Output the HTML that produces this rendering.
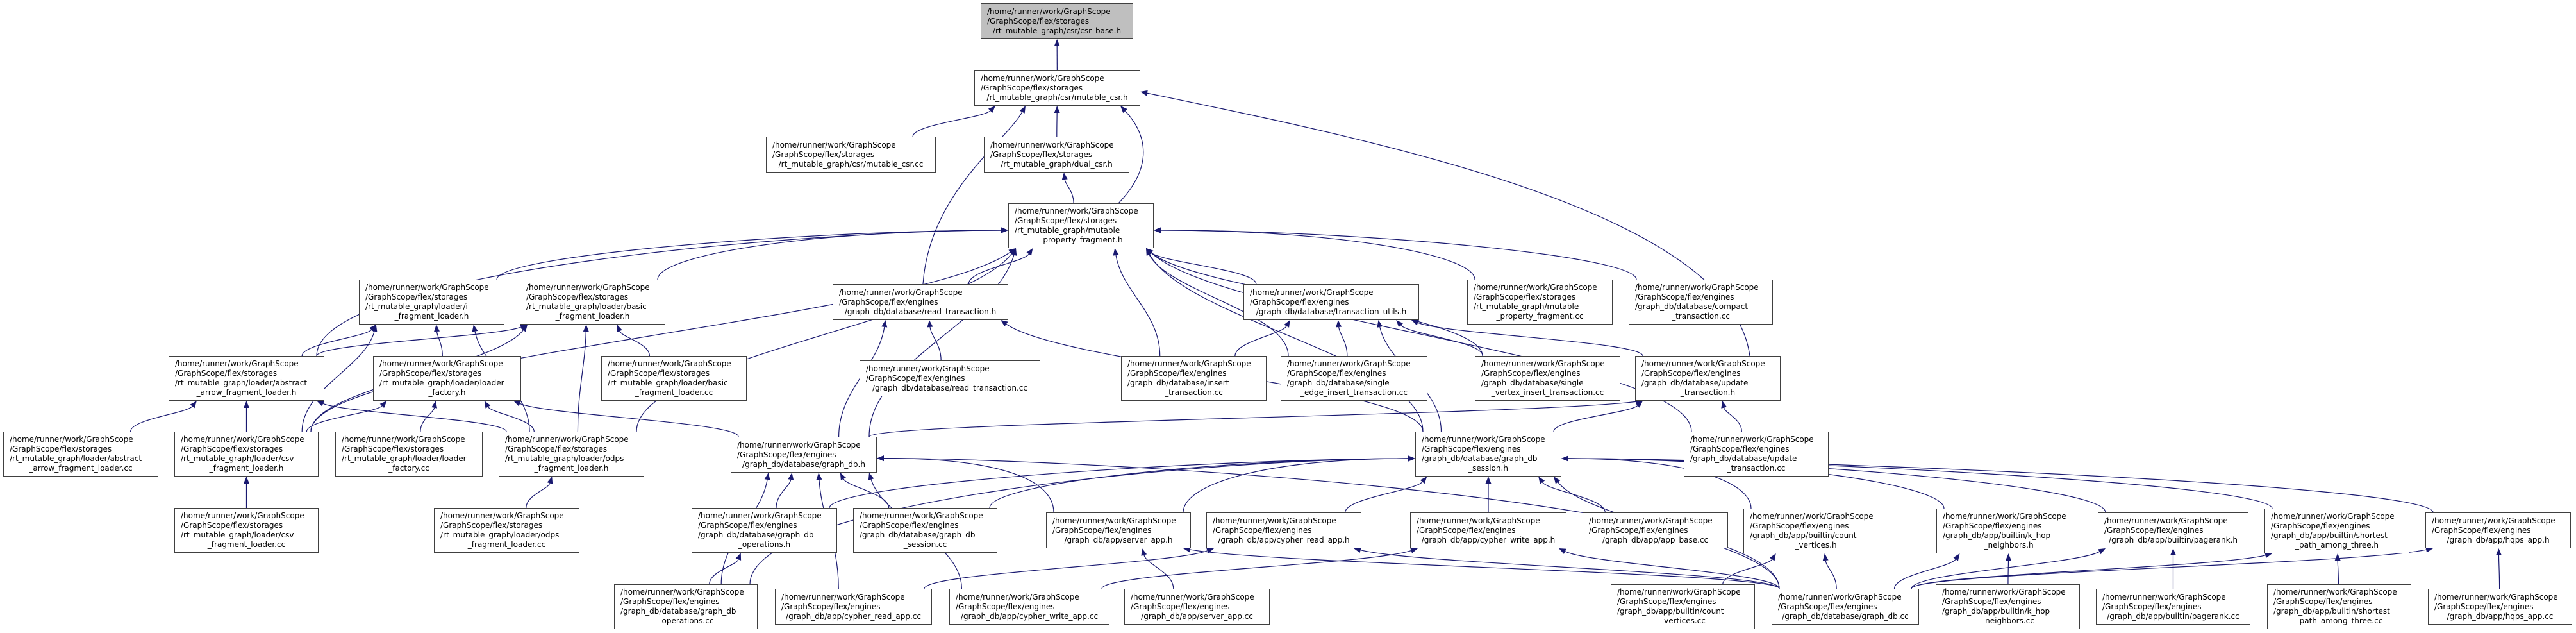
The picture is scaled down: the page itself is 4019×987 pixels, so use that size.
<!DOCTYPE html>
<html><head><meta charset="utf-8">
<style>
html,body{margin:0;padding:0;background:#fff;}
body{width:4019px;height:987px;position:relative;overflow:hidden;font-family:"DejaVu Sans","Liberation Sans",sans-serif;}
.n{position:absolute;box-sizing:border-box;border:1.3px solid #404040;background:#fff;display:flex;flex-direction:column;justify-content:center;padding:0 0 0 9px;font-size:12px;line-height:15px;color:#000;white-space:nowrap;z-index:2;}
.n div:last-child{text-align:center;padding-right:9px;}
.g{background:#bfbfbf;}
svg{position:absolute;left:0;top:0;z-index:1;}
</style></head><body>
<svg id="s" width="4019" height="987"></svg>

<div class="n g" id="csr_base" style="left:1530px;top:5px;width:238px;height:56px"><div>/home/runner/work/GraphScope</div><div>/GraphScope/flex/storages</div><div>/rt_mutable_graph/csr/csr_base.h</div></div>
<div class="n" id="mcsr_h" style="left:1520px;top:109px;width:259px;height:56px"><div>/home/runner/work/GraphScope</div><div>/GraphScope/flex/storages</div><div>/rt_mutable_graph/csr/mutable_csr.h</div></div>
<div class="n" id="mcsr_cc" style="left:1195px;top:213px;width:265px;height:56px"><div>/home/runner/work/GraphScope</div><div>/GraphScope/flex/storages</div><div>/rt_mutable_graph/csr/mutable_csr.cc</div></div>
<div class="n" id="dual" style="left:1535px;top:213px;width:227px;height:56px"><div>/home/runner/work/GraphScope</div><div>/GraphScope/flex/storages</div><div>/rt_mutable_graph/dual_csr.h</div></div>
<div class="n" id="mpf_h" style="left:1573px;top:317px;width:227px;height:70px"><div>/home/runner/work/GraphScope</div><div>/GraphScope/flex/storages</div><div>/rt_mutable_graph/mutable</div><div>_property_fragment.h</div></div>

<div class="n" id="iload" style="left:560px;top:436px;width:227px;height:70px"><div>/home/runner/work/GraphScope</div><div>/GraphScope/flex/storages</div><div>/rt_mutable_graph/loader/i</div><div>_fragment_loader.h</div></div>
<div class="n" id="bload_h" style="left:811px;top:436px;width:227px;height:70px"><div>/home/runner/work/GraphScope</div><div>/GraphScope/flex/storages</div><div>/rt_mutable_graph/loader/basic</div><div>_fragment_loader.h</div></div>
<div class="n" id="rtx_h" style="left:1299px;top:443px;width:274px;height:56px"><div>/home/runner/work/GraphScope</div><div>/GraphScope/flex/engines</div><div>/graph_db/database/read_transaction.h</div></div>
<div class="n" id="txu" style="left:1940px;top:443px;width:274px;height:56px"><div>/home/runner/work/GraphScope</div><div>/GraphScope/flex/engines</div><div>/graph_db/database/transaction_utils.h</div></div>
<div class="n" id="mpf_cc" style="left:2289px;top:436px;width:227px;height:70px"><div>/home/runner/work/GraphScope</div><div>/GraphScope/flex/storages</div><div>/rt_mutable_graph/mutable</div><div>_property_fragment.cc</div></div>
<div class="n" id="compact" style="left:2541px;top:436px;width:225px;height:70px"><div>/home/runner/work/GraphScope</div><div>/GraphScope/flex/engines</div><div>/graph_db/database/compact</div><div>_transaction.cc</div></div>

<div class="n" id="aarrow_h" style="left:263px;top:555px;width:243px;height:70px"><div>/home/runner/work/GraphScope</div><div>/GraphScope/flex/storages</div><div>/rt_mutable_graph/loader/abstract</div><div>_arrow_fragment_loader.h</div></div>
<div class="n" id="lf_h" style="left:582px;top:555px;width:231px;height:70px"><div>/home/runner/work/GraphScope</div><div>/GraphScope/flex/storages</div><div>/rt_mutable_graph/loader/loader</div><div>_factory.h</div></div>
<div class="n" id="bload_cc" style="left:938px;top:555px;width:227px;height:70px"><div>/home/runner/work/GraphScope</div><div>/GraphScope/flex/storages</div><div>/rt_mutable_graph/loader/basic</div><div>_fragment_loader.cc</div></div>
<div class="n" id="rtx_cc" style="left:1341px;top:562px;width:282px;height:56px"><div>/home/runner/work/GraphScope</div><div>/GraphScope/flex/engines</div><div>/graph_db/database/read_transaction.cc</div></div>
<div class="n" id="ins_cc" style="left:1749px;top:555px;width:227px;height:70px"><div>/home/runner/work/GraphScope</div><div>/GraphScope/flex/engines</div><div>/graph_db/database/insert</div><div>_transaction.cc</div></div>
<div class="n" id="sedge" style="left:1998px;top:555px;width:229px;height:70px"><div>/home/runner/work/GraphScope</div><div>/GraphScope/flex/engines</div><div>/graph_db/database/single</div><div>_edge_insert_transaction.cc</div></div>
<div class="n" id="svert" style="left:2301px;top:555px;width:227px;height:70px"><div>/home/runner/work/GraphScope</div><div>/GraphScope/flex/engines</div><div>/graph_db/database/single</div><div>_vertex_insert_transaction.cc</div></div>
<div class="n" id="utx_h" style="left:2551px;top:555px;width:227px;height:70px"><div>/home/runner/work/GraphScope</div><div>/GraphScope/flex/engines</div><div>/graph_db/database/update</div><div>_transaction.h</div></div>

<div class="n" id="aarrow_cc" style="left:5px;top:673px;width:242px;height:70px"><div>/home/runner/work/GraphScope</div><div>/GraphScope/flex/storages</div><div>/rt_mutable_graph/loader/abstract</div><div>_arrow_fragment_loader.cc</div></div>
<div class="n" id="csv_h" style="left:272px;top:673px;width:225px;height:70px"><div>/home/runner/work/GraphScope</div><div>/GraphScope/flex/storages</div><div>/rt_mutable_graph/loader/csv</div><div>_fragment_loader.h</div></div>
<div class="n" id="lf_cc" style="left:523px;top:673px;width:230px;height:70px"><div>/home/runner/work/GraphScope</div><div>/GraphScope/flex/storages</div><div>/rt_mutable_graph/loader/loader</div><div>_factory.cc</div></div>
<div class="n" id="odps_h" style="left:778px;top:673px;width:227px;height:70px"><div>/home/runner/work/GraphScope</div><div>/GraphScope/flex/storages</div><div>/rt_mutable_graph/loader/odps</div><div>_fragment_loader.h</div></div>
<div class="n" id="gdb_h" style="left:1140px;top:681px;width:228px;height:56px"><div>/home/runner/work/GraphScope</div><div>/GraphScope/flex/engines</div><div>/graph_db/database/graph_db.h</div></div>
<div class="n" id="sess_h" style="left:2208px;top:673px;width:228px;height:70px"><div>/home/runner/work/GraphScope</div><div>/GraphScope/flex/engines</div><div>/graph_db/database/graph_db</div><div>_session.h</div></div>
<div class="n" id="utx_cc" style="left:2627px;top:673px;width:226px;height:70px"><div>/home/runner/work/GraphScope</div><div>/GraphScope/flex/engines</div><div>/graph_db/database/update</div><div>_transaction.cc</div></div>

<div class="n" id="csv_cc" style="left:272px;top:792px;width:225px;height:70px"><div>/home/runner/work/GraphScope</div><div>/GraphScope/flex/storages</div><div>/rt_mutable_graph/loader/csv</div><div>_fragment_loader.cc</div></div>
<div class="n" id="odps_cc" style="left:677px;top:792px;width:227px;height:70px"><div>/home/runner/work/GraphScope</div><div>/GraphScope/flex/storages</div><div>/rt_mutable_graph/loader/odps</div><div>_fragment_loader.cc</div></div>
<div class="n" id="gdo_h" style="left:1079px;top:792px;width:227px;height:70px"><div>/home/runner/work/GraphScope</div><div>/GraphScope/flex/engines</div><div>/graph_db/database/graph_db</div><div>_operations.h</div></div>
<div class="n" id="sess_cc" style="left:1331px;top:792px;width:225px;height:70px"><div>/home/runner/work/GraphScope</div><div>/GraphScope/flex/engines</div><div>/graph_db/database/graph_db</div><div>_session.cc</div></div>
<div class="n" id="srv_h" style="left:1632px;top:799px;width:226px;height:56px"><div>/home/runner/work/GraphScope</div><div>/GraphScope/flex/engines</div><div>/graph_db/app/server_app.h</div></div>
<div class="n" id="cr_h" style="left:1882px;top:799px;width:242px;height:56px"><div>/home/runner/work/GraphScope</div><div>/GraphScope/flex/engines</div><div>/graph_db/app/cypher_read_app.h</div></div>
<div class="n" id="cw_h" style="left:2200px;top:799px;width:244px;height:56px"><div>/home/runner/work/GraphScope</div><div>/GraphScope/flex/engines</div><div>/graph_db/app/cypher_write_app.h</div></div>
<div class="n" id="appb" style="left:2469px;top:799px;width:227px;height:56px"><div>/home/runner/work/GraphScope</div><div>/GraphScope/flex/engines</div><div>/graph_db/app/app_base.cc</div></div>
<div class="n" id="cnt_h" style="left:2720px;top:793px;width:226px;height:70px"><div>/home/runner/work/GraphScope</div><div>/GraphScope/flex/engines</div><div>/graph_db/app/builtin/count</div><div>_vertices.h</div></div>
<div class="n" id="khop_h" style="left:3021px;top:793px;width:226px;height:70px"><div>/home/runner/work/GraphScope</div><div>/GraphScope/flex/engines</div><div>/graph_db/app/builtin/k_hop</div><div>_neighbors.h</div></div>
<div class="n" id="pr_h" style="left:3273px;top:799px;width:235px;height:56px"><div>/home/runner/work/GraphScope</div><div>/GraphScope/flex/engines</div><div>/graph_db/app/builtin/pagerank.h</div></div>
<div class="n" id="sp_h" style="left:3533px;top:793px;width:226px;height:70px"><div>/home/runner/work/GraphScope</div><div>/GraphScope/flex/engines</div><div>/graph_db/app/builtin/shortest</div><div>_path_among_three.h</div></div>
<div class="n" id="hq_h" style="left:3784px;top:799px;width:227px;height:56px"><div>/home/runner/work/GraphScope</div><div>/GraphScope/flex/engines</div><div>/graph_db/app/hqps_app.h</div></div>

<div class="n" id="gdo_cc" style="left:958px;top:911px;width:224px;height:70px"><div>/home/runner/work/GraphScope</div><div>/GraphScope/flex/engines</div><div>/graph_db/database/graph_db</div><div>_operations.cc</div></div>
<div class="n" id="cr_cc" style="left:1209px;top:918px;width:245px;height:56px"><div>/home/runner/work/GraphScope</div><div>/GraphScope/flex/engines</div><div>/graph_db/app/cypher_read_app.cc</div></div>
<div class="n" id="cw_cc" style="left:1481px;top:918px;width:250px;height:56px"><div>/home/runner/work/GraphScope</div><div>/GraphScope/flex/engines</div><div>/graph_db/app/cypher_write_app.cc</div></div>
<div class="n" id="srv_cc" style="left:1754px;top:918px;width:227px;height:56px"><div>/home/runner/work/GraphScope</div><div>/GraphScope/flex/engines</div><div>/graph_db/app/server_app.cc</div></div>
<div class="n" id="cnt_cc" style="left:2513px;top:911px;width:225px;height:70px"><div>/home/runner/work/GraphScope</div><div>/GraphScope/flex/engines</div><div>/graph_db/app/builtin/count</div><div>_vertices.cc</div></div>
<div class="n" id="gdb_cc" style="left:2764px;top:918px;width:230px;height:56px"><div>/home/runner/work/GraphScope</div><div>/GraphScope/flex/engines</div><div>/graph_db/database/graph_db.cc</div></div>
<div class="n" id="khop_cc" style="left:3020px;top:911px;width:225px;height:70px"><div>/home/runner/work/GraphScope</div><div>/GraphScope/flex/engines</div><div>/graph_db/app/builtin/k_hop</div><div>_neighbors.cc</div></div>
<div class="n" id="pr_cc" style="left:3270px;top:918px;width:241px;height:56px"><div>/home/runner/work/GraphScope</div><div>/GraphScope/flex/engines</div><div>/graph_db/app/builtin/pagerank.cc</div></div>
<div class="n" id="sp_cc" style="left:3537px;top:911px;width:225px;height:70px"><div>/home/runner/work/GraphScope</div><div>/GraphScope/flex/engines</div><div>/graph_db/app/builtin/shortest</div><div>_path_among_three.cc</div></div>
<div class="n" id="hq_cc" style="left:3788px;top:918px;width:225px;height:56px"><div>/home/runner/work/GraphScope</div><div>/GraphScope/flex/engines</div><div>/graph_db/app/hqps_app.cc</div></div>

<script>
var E=[
["mcsr_h","csr_base"],["mcsr_cc","mcsr_h"],["dual","mcsr_h"],["mpf_h","dual"],
["iload","mpf_h"],["bload_h","mpf_h"],["rtx_h","mpf_h"],["txu","mpf_h"],["mpf_cc","mpf_h"],["compact","mpf_h"],["aarrow_h","mpf_h"],["csv_h","mpf_h"],["odps_h","mpf_h"],["gdb_h","mpf_h"],["ins_cc","mpf_h"],["sedge","mpf_h"],["svert","mpf_h"],["utx_cc","mpf_h"],["sess_h","mpf_h"],
["aarrow_h","iload"],["lf_h","iload"],["csv_h","iload"],["odps_h","iload"],["aarrow_h","bload_h"],["csv_h","bload_h"],["odps_h","bload_h"],["bload_cc","bload_h"],
["aarrow_cc","aarrow_h"],["csv_h","aarrow_h"],["odps_h","aarrow_h"],["csv_h","lf_h"],["lf_cc","lf_h"],["odps_h","lf_h"],["gdb_h","lf_h"],["csv_cc","csv_h"],["odps_cc","odps_h"],
["rtx_cc","rtx_h"],["gdb_h","rtx_h"],["sess_h","rtx_h"],["ins_cc","txu"],["sedge","txu"],["svert","txu"],["utx_h","txu"],["sess_h","txu"],["utx_cc","utx_h"],["gdb_h","utx_h"],["sess_h","utx_h"],
["gdo_h","gdb_h"],["sess_cc","gdb_h"],["srv_h","gdb_h"],["gdo_cc","gdb_h"],["cr_cc","gdb_h"],["cw_cc","gdb_h"],["gdb_cc","gdb_h"],
["gdo_h","sess_h"],["srv_h","sess_h"],["cr_h","sess_h"],["cw_h","sess_h"],["appb","sess_h"],["cnt_h","sess_h"],["khop_h","sess_h"],["pr_h","sess_h"],["sp_h","sess_h"],["hq_h","sess_h"],["gdb_cc","sess_h"],["gdo_cc","sess_h"],["sess_cc","sess_h"],
["gdo_cc","gdo_h"],
["srv_cc","srv_h"],["gdb_cc","srv_h"],["cr_cc","cr_h"],["gdb_cc","cr_h"],["cw_cc","cw_h"],["gdb_cc","cw_h"],["cnt_cc","cnt_h"],["gdb_cc","cnt_h"],["khop_cc","khop_h"],["gdb_cc","khop_h"],["pr_cc","pr_h"],["gdb_cc","pr_h"],["sp_cc","sp_h"],["gdb_cc","sp_h"],["hq_cc","hq_h"],["gdb_cc","hq_h"]
];
var SIDE={mpf_h:1,sess_h:1,gdb_h:1};
function B(id){var e=document.getElementById(id);return{l:e.offsetLeft,t:e.offsetTop,w:e.offsetWidth,h:e.offsetHeight};}
function cl(v,a,b){return Math.max(a,Math.min(b,v));}
var s="",C="#191970";
function draw(sx,sy,c1x,c1y,c2x,c2y,ex,ey){
 var ax=ex-c2x,ay=ey-c2y,L=Math.sqrt(ax*ax+ay*ay)||1;ax/=L;ay/=L;
 var bx=ex-ax*11,by=ey-ay*11,nx=-ay*4.5,ny=ax*4.5;
 s+='<path d="M'+sx+','+sy+' C'+c1x+','+c1y+' '+c2x+','+c2y+' '+bx+','+by+'" fill="none" stroke="'+C+'" stroke-width="1.2"/>';
 s+='<polygon points="'+ex+','+ey+' '+(bx+nx)+','+(by+ny)+' '+(bx-nx)+','+(by-ny)+'" fill="'+C+'"/>';
}
E.forEach(function(p){
 var c=B(p[0]),q=B(p[1]);
 var cx=c.l+c.w/2,qx=q.l+q.w/2;
 var gap=c.t-(q.t+q.h);
 var sx=cl(cx+(qx-cx)*0.3,c.l+12,c.l+c.w-12),sy=c.t;
 if(SIDE[p[1]] && gap>0 && Math.abs(cx-qx)>q.w/2+4*gap+60){
   var right=cx>qx;
   var ex=right?q.l+q.w:q.l, ey=q.t+q.h*0.6;
   draw(sx,sy,sx,sy-gap*0.8,ex+(right?1:-1)*Math.min(300,Math.abs(cx-qx)*0.4),ey,ex,ey);
   return;
 }
 var ex=cl(qx+(cx-qx)*0.3,q.l+12,q.l+q.w-12),ey=q.t+q.h;
 var dy=sy-ey; if(dy<20)dy=20;
 draw(sx,sy,sx,sy-dy*0.4,ex+(sx-ex)*0.15,ey+dy*0.4,ex,ey);
});
draw(1745,317,1800,260,1790,210,1748,165);
draw(1440,443,1450,300,1570,220,1600,165);
draw(2730,555,2700,330,2150,220,1779,143);
document.getElementById("s").innerHTML=s;
</script>
</body></html>
